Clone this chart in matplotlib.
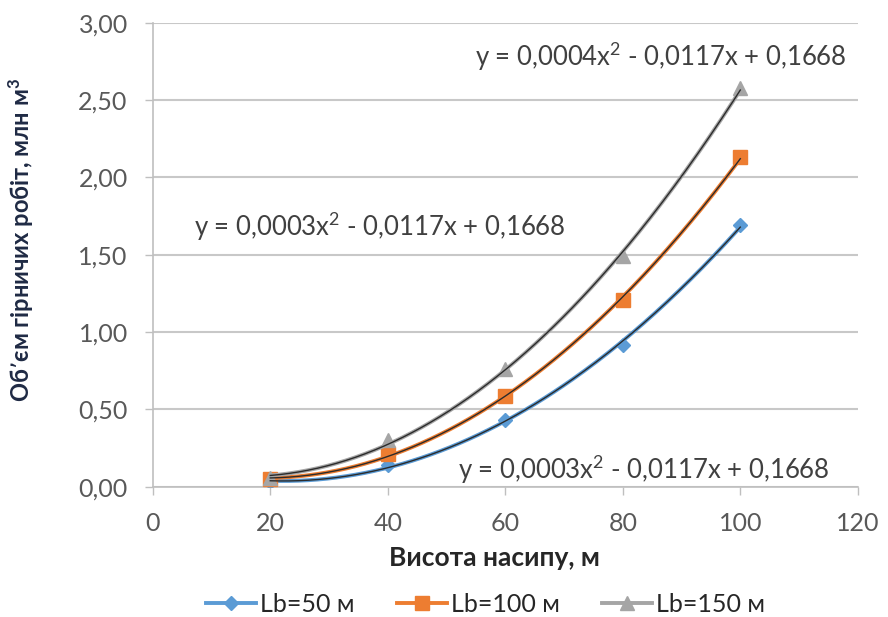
import numpy as np
import matplotlib
matplotlib.use('Agg')
import matplotlib.pyplot as plt

plt.rcParams['font.family'] = ['Lato', 'Open Sans', 'DejaVu Sans']
plt.rcParams['mathtext.default'] = 'regular'

# data
heights = [20, 40, 60, 80, 100]
lb50 = [0.03, 0.14, 0.43, 0.92, 1.69]
lb100 = [0.05, 0.21, 0.59, 1.21, 2.13]
lb150 = [0.06, 0.30, 0.76, 1.49, 2.58]
series_names = ['Lb=50 м', 'Lb=100 м', 'Lb=150 м']
equations = ['y = 0,0003x$^2$ - 0,0117x + 0,1668',
             'y = 0,0003x$^2$ - 0,0117x + 0,1668',
             'y = 0,0004x$^2$ - 0,0117x + 0,1668']
x_ticks = [0, 20, 40, 60, 80, 100, 120]
y_ticks = [0.0, 0.5, 1.0, 1.5, 2.0, 2.5, 3.0]

colors = ['#5B9BD5', '#ED7D31', '#A5A5A5']
markers = ['D', 's', '^']
msizes = [7, 9.5, 9.5]

fig = plt.figure(figsize=(8.88, 6.17), dpi=100)
ax = fig.add_axes([0.172, 0.211, 0.794, 0.752])

for ys, name, c, m, ms in zip([lb50, lb100, lb150], series_names,
                              colors, markers, msizes):
    # polynomial trendline like Excel (series line is smoothed, so it
    # follows the trendline closely)
    coef = np.polyfit(heights, ys, 2)
    xs = np.linspace(heights[0], heights[-1], 200)
    ax.plot(xs, np.polyval(coef, xs), color=c, lw=2.8, zorder=3)
    ax.plot(heights, ys, color=c, lw=2.8, marker=m, ms=ms, ls='none',
            zorder=3)
    ax.plot(xs, np.polyval(coef, xs), color='#2b2b2b', lw=1.0, zorder=4)
    # proxy for the legend
    ax.plot([], [], color=c, lw=2.8, marker=m, ms=ms, label=name)

# equation labels
ax.text(0.7206, 0.927, equations[2], transform=ax.transAxes, ha='center',
        va='center', fontsize=18.5, color='#404040')
ax.text(0.322, 0.560, equations[1], transform=ax.transAxes, ha='center',
        va='center', fontsize=18.5, color='#404040')
ax.text(0.696, 0.037, equations[0], transform=ax.transAxes, ha='center',
        va='center', fontsize=18.5, color='#404040')

ax.set_xlim(0, 120)
ax.set_ylim(0, 3.0)
ax.set_xticks(x_ticks)
ax.set_yticks(y_ticks)
ax.set_yticklabels(['{:.2f}'.format(v).replace('.', ',') for v in y_ticks])
ax.tick_params(axis='both', labelsize=18, colors='#595959', length=6,
               width=1, direction='out')
ax.tick_params(axis='y', color='#bfbfbf', pad=12)
ax.tick_params(axis='x', color='#bfbfbf', pad=12)

ax.grid(axis='y', color='#c8c8c8', lw=1.5)
ax.set_axisbelow(True)
for side in ['top', 'right']:
    ax.spines[side].set_visible(False)
for side in ['left', 'bottom']:
    ax.spines[side].set_color('#bfbfbf')
    ax.spines[side].set_linewidth(1.2)

ax.set_xlabel('Висота насипу, м', fontsize=19, fontweight='bold',
              color='#262626')
ax.xaxis.set_label_coords(0.485, -0.127)
ax.set_ylabel('Об’єм гірничих робіт, млн м$^3$', fontsize=17,
              fontweight='bold', color='#1f2a44')
ax.yaxis.set_label_coords(-0.165, 0.532)

ax.legend(loc='center', bbox_to_anchor=(0.472, -0.253), ncol=3,
          frameon=False, fontsize=18, handlelength=2.0, columnspacing=1.7,
          handletextpad=0.15, labelcolor='#262626')

fig.savefig('out.png', dpi=100)
